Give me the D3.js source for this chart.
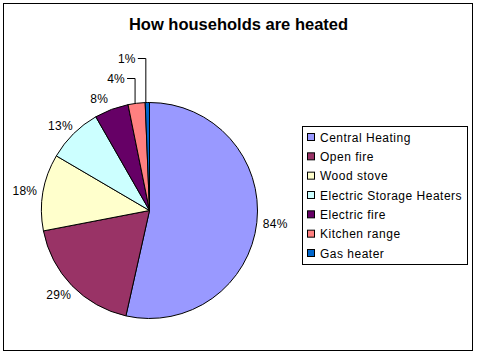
<!DOCTYPE html>
<html><head><meta charset="utf-8">
<script src="https://cdn.jsdelivr.net/npm/d3@7"></script>
<style>body{margin:0;background:#fff}svg{display:block}text{font-family:Arial,"Liberation Sans",sans-serif}</style>
</head><body>
<svg id="c" width="481" height="357"></svg>
<script>
const categories = ["Central Heating","Open fire","Wood stove","Electric Storage Heaters","Electric fire","Kitchen range","Gas heater"];
const values = [84,29,18,13,8,4,1];
const colors = ["#9999FF","#993366","#FFFFCC","#CCFFFF","#660066","#FF8080","#0066CC"];
const title = "How households are heated";

const svg = d3.select("#c");
svg.append("rect").attr("x",3.5).attr("y",3.5).attr("width",469).attr("height",347)
  .attr("fill","#fff").attr("stroke","#000").attr("stroke-width",1);
svg.append("text").attr("x",238.5).attr("y",30).attr("text-anchor","middle")
  .attr("font-size",16.5).attr("font-weight","bold").text(title);

const cx=149.5, cy=210.5, r=108;
const data = categories.map((c,i)=>({cat:c,val:values[i],col:colors[i]}));
const pie = d3.pie().sort(null).value(d=>d.val);
const arcs = pie(data);
const arc = d3.arc().innerRadius(0).outerRadius(r);
const g = svg.append("g").attr("transform",`translate(${cx},${cy})`);
g.selectAll("path").data(arcs).join("path").attr("d",arc)
  .attr("fill",d=>d.data.col).attr("stroke","#000").attr("stroke-width",1);

// labels
const lab = g.append("g");
arcs.forEach((a,i)=>{
  const m=(a.startAngle+a.endAngle)/2, s=Math.sin(m), c=Math.cos(m);
  const txt = a.data.val + "%";
  if (a.data.val >= 5) {
    const t = lab.append("text").attr("font-size",12).attr("letter-spacing",0.3).text(txt);
    const w = t.node().getComputedTextLength(), h=12;
    const d=6;
    let x = (r+d)*s + s*w/2, y = -(r+d)*c - c*h/2;
    if (i===4) x -= 7;
    t.attr("x",x).attr("y",y+4.5).attr("text-anchor","middle");
  }
});
// small slices with leader lines (stacked above pie)
const smalls = arcs.filter(a=>a.data.val<5);
smalls.forEach((a,k)=>{
  const m=(a.startAngle+a.endAngle)/2;
  const px = r*Math.sin(m)-1.5, py = -r*Math.cos(m);
  const ly = -r - 24 - 20*k;
  lab.append("path").attr("d",`M${px},${py}V${ly}H${px-8}`).attr("fill","none")
    .attr("stroke","#000").attr("stroke-width",1);
  lab.append("text").attr("x",px-10).attr("y",ly+4.5).attr("text-anchor","end")
    .attr("font-size",12).attr("letter-spacing",0.3).text(a.data.val+"%");
});

// legend
const lg = svg.append("g");
lg.append("rect").attr("x",302.5).attr("y",126.5).attr("width",165).attr("height",138)
  .attr("fill","#fff").attr("stroke","#000");
const ly = d3.scalePoint().domain(categories).range([137,253]);
categories.forEach((c,i)=>{
  lg.append("rect").attr("x",307.5).attr("y",ly(c)-3.5).attr("width",7).attr("height",7)
    .attr("fill",colors[i]).attr("stroke","#000");
  lg.append("text").attr("x",320).attr("y",ly(c)+4.5).attr("font-size",12)
    .attr("letter-spacing",0.5).text(c);
});
</script>
</body></html>
